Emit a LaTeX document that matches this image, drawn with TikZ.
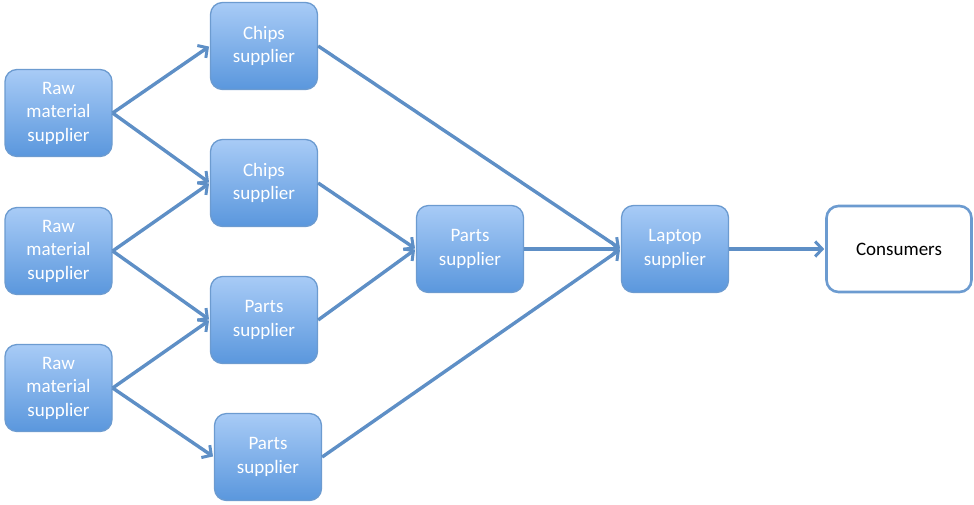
\documentclass[tikz,border=0pt]{standalone}
\usepackage{fontspec}
\setmainfont{Carlito}
\usetikzlibrary{arrows.meta}
\definecolor{boxtop}{HTML}{A8CBF6}
\definecolor{boxbot}{HTML}{5A97DD}
\definecolor{boxline}{HTML}{6C9BD0}
\definecolor{arr}{HTML}{5E8FC6}
\tikzset{
  sup/.style={draw=boxline, line width=1.3pt, rounded corners=12pt,
    top color=boxtop, bottom color=boxbot, minimum width=107pt, minimum height=87pt,
    text=white, font=\fontsize{19}{23.5}\selectfont, align=center, inner sep=2pt},
  cons/.style={draw=boxline, line width=2.6pt, rounded corners=12pt, fill=white,
    minimum width=145pt, minimum height=86pt, font=\fontsize{19}{23.5}\selectfont},
  link/.style={draw=arr, line width=3.4pt, -{Straight Barb[length=7pt,width=15pt,line width=3pt]}, shorten >=1pt}
}
\begin{document}
\begin{tikzpicture}[x=1pt,y=-1pt]
\useasboundingbox (0,0) rectangle (974,504);
\node[sup] (r1) at (58.5,113) {Raw\\material\\supplier};
\node[sup] (r2) at (58.5,251) {Raw\\material\\supplier};
\node[sup] (r3) at (58.5,388) {Raw\\material\\supplier};
\node[sup] (c1) at (264,46) {Chips\\supplier};
\node[sup] (c2) at (264,183) {Chips\\supplier};
\node[sup] (p2) at (264,320) {Parts\\supplier};
\node[sup] (p3) at (268,457) {Parts\\supplier};
\node[sup] (p) at (470,249) {Parts\\supplier};
\node[sup] (l) at (675,249) {Laptop\\supplier};
\node[cons] (k) at (899,249) {Consumers};
\draw[link] (r1.east) -- (c1.west);
\draw[link] (r1.east) -- (c2.west);
\draw[link] (r2.east) -- (c2.west);
\draw[link] (r2.east) -- (p2.west);
\draw[link] (r3.east) -- (p2.west);
\draw[link] (r3.east) -- (p3.west);
\draw[link] (c1.east) -- (l.west);
\draw[link] (c2.east) -- (p.west);
\draw[link] (p2.east) -- (p.west);
\draw[link] (p3.east) -- (l.west);
\draw[link] (p.east) -- (l.west);
\draw[link] (l.east) -- (k.west);
\end{tikzpicture}
\end{document}
